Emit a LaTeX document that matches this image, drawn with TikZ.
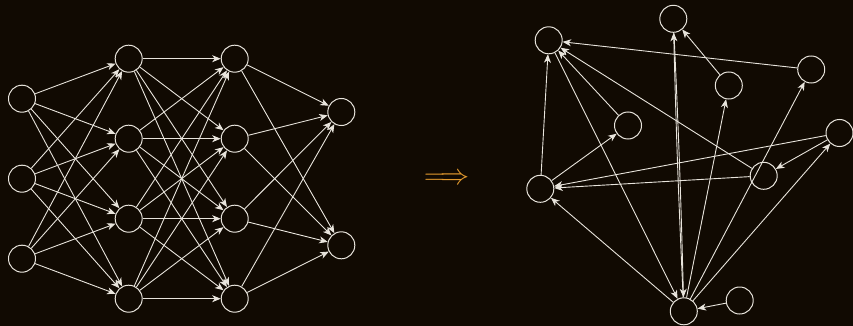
\documentclass[tikz,border=0pt]{standalone}
\usetikzlibrary{arrows.meta}
\definecolor{bg}{HTML}{110A02}
\definecolor{fg}{HTML}{E8E4DC}
\definecolor{org}{HTML}{E39A2E}
\begin{document}
\begin{tikzpicture}[x=1pt,y=-1pt,
  nd/.style={circle,draw=fg,line width=1pt,minimum size=27pt,inner sep=0pt},
  ed/.style={draw=fg,line width=0.9pt,-{Stealth[length=8.5pt,width=7pt,inset=2.5pt]}}]
\fill[bg] (0,0) rectangle (853,326);
\useasboundingbox (0,0) rectangle (853,326);
% left network
\foreach \i/\y in {1/98.7,2/178.7,3/258.7} \node[nd] (a\i) at (22,\y) {};
\foreach \i/\y in {1/58.7,2/138.7,3/218.7,4/298.7} \node[nd] (b\i) at (128.7,\y) {};
\foreach \i/\y in {1/58.7,2/138.7,3/218.7,4/298.7} \node[nd] (c\i) at (234.7,\y) {};
\foreach \i/\y in {1/112,2/245.3} \node[nd] (d\i) at (341.3,\y) {};
\foreach \i in {1,2,3} \foreach \j in {1,2,3,4} \draw[ed] (a\i) -- (b\j);
\foreach \i in {1,2,3,4} \foreach \j in {1,2,3,4} \draw[ed] (b\i) -- (c\j);
\foreach \i in {1,2,3,4} \foreach \j in {1,2} \draw[ed] (c\i) -- (d\j);
% implication arrow
\node[text=org,inner sep=0pt] (imp) at (446.7,178.8) {\scalebox{1.17}{\fontsize{24.88}{26}\selectfont$\Longrightarrow$}};
% right graph
\node[nd] (A) at (548.7,40.3) {};
\node[nd] (B) at (673.3,18.8) {};
\node[nd] (C) at (728.8,85.5) {};
\node[nd] (D) at (811.2,69.5) {};
\node[nd] (E) at (628,125.5) {};
\node[nd] (F) at (839.5,133) {};
\node[nd] (G) at (763.7,175.8) {};
\node[nd] (H) at (540.3,188.8) {};
\node[nd] (I) at (683.8,311.3) {};
\node[nd] (J) at (739.7,300.5) {};
\draw[ed] (D) -- (A);
\draw[ed] (H) -- (A);
\draw[ed] (E) -- (A);
\draw[ed] (G) -- (A);
\draw[ed] (A) -- (I);
\draw[ed] (I) to[bend left=0.6] (B);
\draw[ed] (B) to[bend left=0.6] (I);
\draw[ed] (C) -- (B);
\draw[ed] (I) -- (C);
\draw[ed] (I) -- (D);
\draw[ed] (I) -- (F);
\draw[ed] (I) -- (H);
\draw[ed] (J) -- (I);
\draw[ed] (H) -- (E);
\draw[ed] (F) -- (H);
\draw[ed] (G) -- (H);
\draw[ed] (F) -- (G);
\end{tikzpicture}
\end{document}
